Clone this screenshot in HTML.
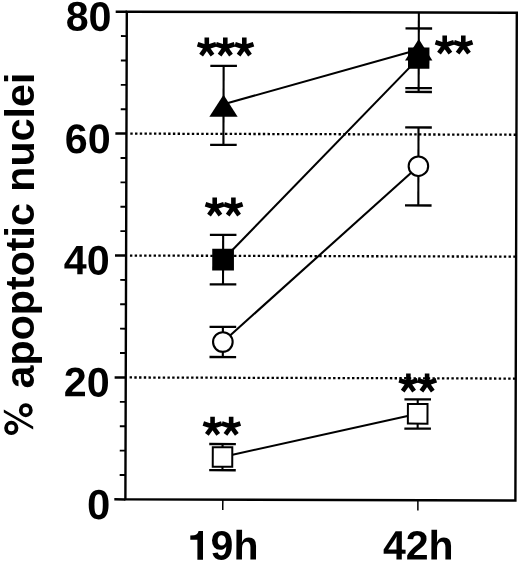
<!DOCTYPE html><html><head><meta charset="utf-8"><style>html,body{margin:0;padding:0;background:#fff;}svg{display:block;filter:grayscale(1);}</style></head><body>
<svg width="520" height="563" viewBox="0 0 520 563">
<rect width="520" height="563" fill="#fff"/>
<g transform="rotate(0.166 321 256)" fill="none" stroke="#000" stroke-linecap="butt">
<line x1="129.95" y1="378.02" x2="516.10" y2="378.02" stroke-width="2.3" stroke-dasharray="2.4 2.3325"/>
<line x1="129.95" y1="256.10" x2="516.10" y2="256.10" stroke-width="2.3" stroke-dasharray="2.4 2.3325"/>
<line x1="129.95" y1="134.18" x2="516.10" y2="134.18" stroke-width="2.3" stroke-dasharray="2.4 2.3325"/>
<path d="M126.10 12.25 H516.10 V499.95 H126.10 Z" stroke-width="2.4"/>
<line x1="115" y1="499.95" x2="126.10" y2="499.95" stroke-width="2.5"/>
<line x1="115" y1="378.02" x2="126.10" y2="378.02" stroke-width="2.5"/>
<line x1="115" y1="256.10" x2="126.10" y2="256.10" stroke-width="2.5"/>
<line x1="115" y1="134.18" x2="126.10" y2="134.18" stroke-width="2.5"/>
<line x1="115" y1="12.25" x2="126.10" y2="12.25" stroke-width="2.5"/>
<line x1="120.3" y1="475.56" x2="126.10" y2="475.56" stroke-width="1.9"/>
<line x1="120.3" y1="451.18" x2="126.10" y2="451.18" stroke-width="1.9"/>
<line x1="120.3" y1="426.79" x2="126.10" y2="426.79" stroke-width="1.9"/>
<line x1="120.3" y1="402.41" x2="126.10" y2="402.41" stroke-width="1.9"/>
<line x1="120.3" y1="353.64" x2="126.10" y2="353.64" stroke-width="1.9"/>
<line x1="120.3" y1="329.25" x2="126.10" y2="329.25" stroke-width="1.9"/>
<line x1="120.3" y1="304.87" x2="126.10" y2="304.87" stroke-width="1.9"/>
<line x1="120.3" y1="280.49" x2="126.10" y2="280.49" stroke-width="1.9"/>
<line x1="120.3" y1="231.71" x2="126.10" y2="231.71" stroke-width="1.9"/>
<line x1="120.3" y1="207.33" x2="126.10" y2="207.33" stroke-width="1.9"/>
<line x1="120.3" y1="182.94" x2="126.10" y2="182.94" stroke-width="1.9"/>
<line x1="120.3" y1="158.56" x2="126.10" y2="158.56" stroke-width="1.9"/>
<line x1="120.3" y1="109.79" x2="126.10" y2="109.79" stroke-width="1.9"/>
<line x1="120.3" y1="85.41" x2="126.10" y2="85.41" stroke-width="1.9"/>
<line x1="120.3" y1="61.02" x2="126.10" y2="61.02" stroke-width="1.9"/>
<line x1="120.3" y1="36.64" x2="126.10" y2="36.64" stroke-width="1.9"/>
<line x1="223.5" y1="499.95" x2="223.5" y2="510.3" stroke-width="1.5"/>
<line x1="418.6" y1="499.95" x2="418.6" y2="510.3" stroke-width="1.5"/>
<line x1="223.10" y1="104.60" x2="418.15" y2="49.30" stroke-width="2.1"/>
<line x1="223.10" y1="259.90" x2="418.15" y2="57.85" stroke-width="2.1"/>
<line x1="223.10" y1="342.30" x2="418.15" y2="165.90" stroke-width="2.1"/>
<line x1="223.10" y1="457.20" x2="418.15" y2="413.55" stroke-width="2.1"/>
<line x1="223.10" y1="66.20" x2="223.10" y2="145.10" stroke-width="2.1"/>
<line x1="209.80" y1="66.20" x2="236.40" y2="66.20" stroke-width="2.3"/>
<line x1="209.80" y1="145.10" x2="236.40" y2="145.10" stroke-width="2.3"/>
<line x1="223.10" y1="235.10" x2="223.10" y2="284.60" stroke-width="2.1"/>
<line x1="209.80" y1="235.10" x2="236.40" y2="235.10" stroke-width="2.3"/>
<line x1="209.80" y1="284.60" x2="236.40" y2="284.60" stroke-width="2.3"/>
<line x1="223.10" y1="327.20" x2="223.10" y2="357.30" stroke-width="2.1"/>
<line x1="209.80" y1="327.20" x2="236.40" y2="327.20" stroke-width="2.3"/>
<line x1="209.80" y1="357.30" x2="236.40" y2="357.30" stroke-width="2.3"/>
<line x1="223.10" y1="444.30" x2="223.10" y2="470.50" stroke-width="2.1"/>
<line x1="209.80" y1="444.30" x2="236.40" y2="444.30" stroke-width="2.3"/>
<line x1="209.80" y1="470.50" x2="236.40" y2="470.50" stroke-width="2.3"/>
<line x1="418.15" y1="12.25" x2="418.15" y2="91.7" stroke-width="2.1"/>
<line x1="404.85" y1="28.20" x2="431.45" y2="28.20" stroke-width="2.3"/>
<line x1="404.85" y1="87.90" x2="431.45" y2="87.90" stroke-width="2.3"/>
<line x1="404.85" y1="91.70" x2="431.45" y2="91.70" stroke-width="2.3"/>
<line x1="418.15" y1="127.20" x2="418.15" y2="205.20" stroke-width="2.1"/>
<line x1="404.85" y1="127.20" x2="431.45" y2="127.20" stroke-width="2.3"/>
<line x1="404.85" y1="205.20" x2="431.45" y2="205.20" stroke-width="2.3"/>
<line x1="418.15" y1="399.10" x2="418.15" y2="428.40" stroke-width="2.1"/>
<line x1="404.85" y1="399.10" x2="431.45" y2="399.10" stroke-width="2.3"/>
<line x1="404.85" y1="428.40" x2="431.45" y2="428.40" stroke-width="2.3"/>
</g>
<g transform="rotate(0.166 321 256)">
<path d="M223.10 95.10 L237.25 117.10 L208.95 117.10 Z" fill="#000"/>
<rect x="212.25" y="249.05" width="21.70" height="21.70" fill="#000"/>
<circle cx="223.10" cy="342.30" r="9.80" fill="#fff" stroke="#000" stroke-width="2.1"/>
<rect x="213.35" y="447.45" width="19.50" height="19.50" fill="#fff" stroke="#000" stroke-width="2.0"/>
<path d="M418.15 38.80 L431.85 60.30 L404.45 60.30 Z" fill="#000"/>
<rect x="407.45" y="47.15" width="21.40" height="21.40" fill="#000"/>
<circle cx="418.15" cy="165.90" r="9.75" fill="#fff" stroke="#000" stroke-width="2.1"/>
<rect x="408.35" y="403.75" width="19.60" height="19.60" fill="#fff" stroke="#000" stroke-width="2.0"/>
</g>
<defs><path id="ast" d="M0 0 L0.000 -9.700 M0 0 L9.225 -2.997 M0 0 L5.702 7.847 M0 0 L-5.702 7.847 M0 0 L-9.225 -2.997 " stroke="#000" stroke-width="4.6" fill="none"/></defs>
<use href="#ast" x="206.80" y="47.20"/>
<use href="#ast" x="225.30" y="47.20"/>
<use href="#ast" x="244.30" y="47.20"/>
<use href="#ast" x="214.70" y="207.20"/>
<use href="#ast" x="233.40" y="207.20"/>
<use href="#ast" x="212.55" y="426.50"/>
<use href="#ast" x="231.15" y="426.50"/>
<use href="#ast" x="444.70" y="45.30"/>
<use href="#ast" x="463.30" y="45.30"/>
<use href="#ast" x="408.40" y="383.20"/>
<use href="#ast" x="427.10" y="383.20"/>
<text x="111.5" y="30.7" font-family="Liberation Sans, sans-serif" font-weight="bold" font-size="41.2" text-anchor="end" transform="rotate(0.166 111.5 30.7)">80</text>
<text x="110.6" y="153.2" font-family="Liberation Sans, sans-serif" font-weight="bold" font-size="41.2" text-anchor="end" transform="rotate(0.166 110.6 153.2)">60</text>
<text x="109.7" y="274.5" font-family="Liberation Sans, sans-serif" font-weight="bold" font-size="41.2" text-anchor="end" transform="rotate(0.166 109.7 274.5)">40</text>
<text x="109.7" y="396.5" font-family="Liberation Sans, sans-serif" font-weight="bold" font-size="41.2" text-anchor="end" transform="rotate(0.166 109.7 396.5)">20</text>
<text x="110.2" y="519.2" font-family="Liberation Sans, sans-serif" font-weight="bold" font-size="41.8" text-anchor="end" transform="rotate(0.166 110.2 519.2)">0</text>
<path d="M197.4 559.7 L203 559.7 L203 530.9 L198.6 530.9 Q197.6 534.6 194.2 535.3 L190.3 535.5 L190.3 539.7 L197.4 539.7 Z" fill="#000"/>
<text x="210.6" y="559.4" font-family="Liberation Sans, sans-serif" font-weight="bold" font-size="41" transform="rotate(0.166 210.6 559.4)">9h</text>
<text x="383" y="559.4" font-family="Liberation Sans, sans-serif" font-weight="bold" font-size="41" transform="rotate(0.166 383 559.4)">42h</text>
<text transform="translate(33.5 388.42) rotate(-90)" font-family="Liberation Sans, sans-serif" font-weight="bold" font-size="41.2">apoptotic nuclei</text>
<circle cx="25.8" cy="410.2" r="5.05" fill="none" stroke="#000" stroke-width="3.75"/>
<circle cx="11.3" cy="427.9" r="5.2" fill="none" stroke="#000" stroke-width="3.8"/>
<path d="M3.8 409.5 L33.2 426.4 L33.2 429.5 L3.8 412.6 Z" fill="#000"/>
</svg></body></html>
